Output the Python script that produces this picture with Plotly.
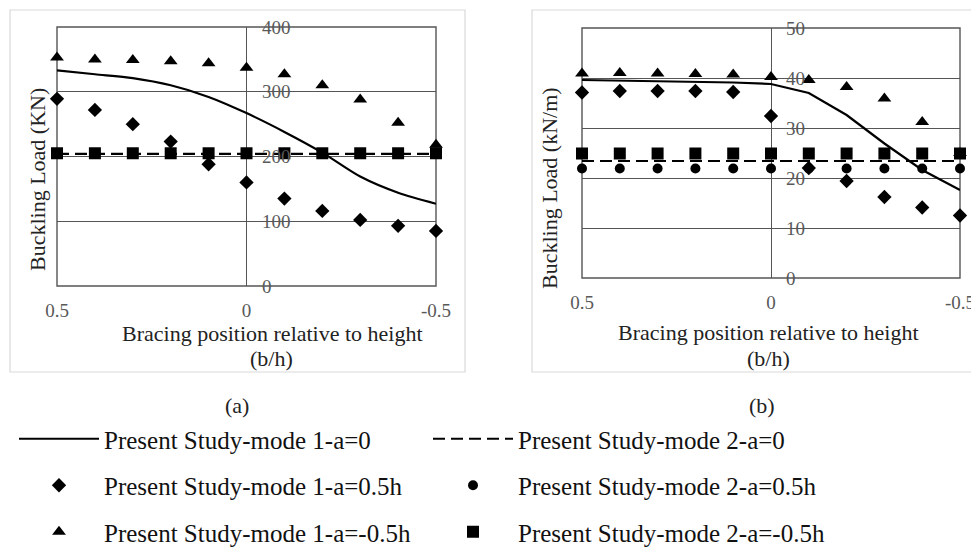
import plotly.graph_objects as go

# ---------------- data ----------------
bracing = [0.5, 0.4, 0.3, 0.2, 0.1, 0.0, -0.1, -0.2, -0.3, -0.4, -0.5]
x_tickvals = [0.5, 0.0, -0.5]
x_ticktext = ["0.5", "0", "-0.5"]

# (a) Buckling load (KN)
a_mode1_a0 = [333, 327, 321, 310, 292, 267, 238, 206, 169, 144, 127]
a_mode2_a0 = [204, 204, 204, 204, 204, 204, 204, 204, 204, 204, 204]
a_mode1_a05h = [289, 272, 250, 223, 188, 160, 135, 116, 102, 93, 85]
a_mode2_a05h = [204, 204, 204, 204, 204, 204, 204, 204, 204, 204, 204]
a_mode1_am05h = [353, 350, 349, 347, 344, 337, 327, 310, 288, 252, 218]
a_mode2_am05h = [205, 205, 205, 205, 205, 205, 205, 205, 205, 205, 205]

# (b) Buckling load (kN/m)
b_mode1_a0 = [39.6, 39.5, 39.4, 39.3, 39.1, 38.8, 37.0, 32.6, 26.9, 21.6, 17.6]
b_mode2_a0 = [23.4, 23.4, 23.4, 23.4, 23.4, 23.4, 23.4, 23.4, 23.4, 23.4, 23.4]
b_mode1_a05h = [37.1, 37.4, 37.4, 37.4, 37.2, 32.4, 22.0, 19.4, 16.2, 14.1, 12.5]
b_mode2_a05h = [21.9, 21.9, 21.9, 21.9, 21.9, 21.9, 21.9, 21.9, 21.9, 21.9, 21.9]
b_mode1_am05h = [40.9, 41.0, 40.9, 40.8, 40.7, 40.2, 39.6, 38.2, 35.9, 31.2, 25.0]
b_mode2_am05h = [24.9, 24.9, 24.9, 24.9, 24.9, 24.9, 24.9, 24.9, 24.9, 24.9, 24.9]

names = [
    "Present Study-mode 1-a=0",
    "Present Study-mode 2-a=0",
    "Present Study-mode 1-a=0.5h",
    "Present Study-mode 2-a=0.5h",
    "Present Study-mode 1-a=-0.5h",
    "Present Study-mode 2-a=-0.5h",
]

# ---------------- layout helpers ----------------
# the page body keeps an 8px margin, so the figure is shrunk by that and
# window pixel positions are shifted accordingly
OFF = 8
W, H = 979 - OFF, 552 - OFF
FONT = "Liberation Serif"


def px(x):
    return (x - OFF) / W


def py(y):
    return 1 - (y - OFF) / H


fig = go.Figure()


def add_panel(xa, ya, s1, s2, s3, s4, s5, s6, show, shape1):
    common = dict(x=bracing, xaxis=xa, yaxis=ya, cliponaxis=False, showlegend=show)
    fig.add_trace(go.Scatter(y=s1, mode="lines", name=names[0], legend="legend",
                             legendgroup="g1", line=dict(color="black", width=2.2, shape=shape1,
                                                         smoothing=0.8), **common))
    fig.add_trace(go.Scatter(y=s2, mode="lines", name=names[1], legend="legend2",
                             legendgroup="g2", line=dict(color="black", width=2.2, dash="12px,6px"),
                             **common))
    fig.add_trace(go.Scatter(y=s3, mode="markers", name=names[2], legend="legend",
                             legendgroup="g3", marker=dict(symbol="diamond", size=11, color="black"),
                             **common))
    fig.add_trace(go.Scatter(y=s4, mode="markers", name=names[3], legend="legend2",
                             legendgroup="g4", marker=dict(symbol="circle", size=10, color="black"),
                             **common))
    fig.add_trace(go.Scatter(y=s5, mode="markers", name=names[4], legend="legend",
                             legendgroup="g5", marker=dict(symbol="triangle-up", size=12, color="black"),
                             **common))
    fig.add_trace(go.Scatter(y=s6, mode="markers", name=names[5], legend="legend2",
                             legendgroup="g6", marker=dict(symbol="square", size=12, color="black"),
                             **common))


add_panel("x", "y", a_mode1_a0, a_mode2_a0, a_mode1_a05h, a_mode2_a05h,
          a_mode1_am05h, a_mode2_am05h, True, "spline")
add_panel("x2", "y2", b_mode1_a0, b_mode2_a0, b_mode1_a05h, b_mode2_a05h,
          b_mode1_am05h, b_mode2_am05h, False, "linear")

AX = "#555555"
TICK = dict(family=FONT, size=19, color="#595959")

xcommon = dict(range=[0.5, -0.5], tickvals=x_tickvals, ticktext=x_ticktext, showgrid=False,
               zeroline=True, zerolinecolor=AX, zerolinewidth=1.4, showline=False, ticks="",
               tickfont=TICK, ticklabelstandoff=11, fixedrange=True, automargin=False)
ycommon = dict(anchor="free", side="right", showgrid=True, gridcolor=AX, gridwidth=1.4,
               zeroline=False, showline=False, ticks="", tickfont=TICK, ticklabelstandoff=14,
               fixedrange=True, automargin=False)

LEG = dict(xanchor="left", yanchor="top", xref="paper", yref="paper",
           font=dict(family=FONT, size=25, color="#111111"), tracegroupgap=11,
           itemwidth=80, bgcolor="rgba(0,0,0,0)", traceorder="grouped")

fig.update_layout(
    width=W, height=H, autosize=False,
    margin=dict(l=0, r=0, t=0, b=0, pad=0, autoexpand=False),
    paper_bgcolor="white", plot_bgcolor="white",
    font=dict(family=FONT, color="#222222"),
    xaxis=dict(domain=[px(57), px(436)], anchor="y", **xcommon),
    yaxis=dict(domain=[py(286), py(27)], range=[0, 400], dtick=100, position=px(247), **ycommon),
    xaxis2=dict(domain=[px(582), px(960)], anchor="y2", **xcommon),
    yaxis2=dict(domain=[py(278), py(28)], range=[0, 50], dtick=10, position=px(771), **ycommon),
    legend=dict(x=px(14), y=py(416), **LEG),
    legend2=dict(x=px(428), y=py(416), **LEG),
)

shapes = [
    # outer light frames
    dict(type="rect", xref="paper", yref="paper", x0=px(10), x1=px(465), y0=py(372), y1=py(10),
         line=dict(color="#d9d9d9", width=1.2), layer="below"),
    dict(type="rect", xref="paper", yref="paper", x0=px(532), x1=px(975), y0=py(372), y1=py(10),
         line=dict(color="#d9d9d9", width=1.2), layer="below"),
    # plot frames
    dict(type="rect", xref="x domain", yref="y domain", x0=0, x1=1, y0=0, y1=1,
         line=dict(color=AX, width=1.4), layer="below"),
    dict(type="rect", xref="x2 domain", yref="y2 domain", x0=0, x1=1, y0=0, y1=1,
         line=dict(color=AX, width=1.4), layer="below"),
]
fig.update_layout(shapes=shapes)

TITLE = dict(family=FONT, size=22, color="#222222")
ann = [
    dict(text="Buckling Load (KN)", x=px(37), y=py(180), textangle=-90),
    dict(text="Buckling Load (kN/m)", x=px(550), y=py(188), textangle=-90),
    dict(text="Bracing position relative to height", x=px(272), y=py(333)),
    dict(text="(b/h)", x=px(271), y=py(358)),
    dict(text="Bracing position relative to height", x=px(768), y=py(332)),
    dict(text="(b/h)", x=px(768), y=py(358)),
    dict(text="(a)", x=px(237), y=py(405)),
    dict(text="(b)", x=px(762), y=py(405)),
]
for a in ann:
    a.update(xref="paper", yref="paper", showarrow=False, font=TITLE,
             xanchor="center", yanchor="middle")
fig.update_layout(annotations=ann)

fig.write_html("out.html")
